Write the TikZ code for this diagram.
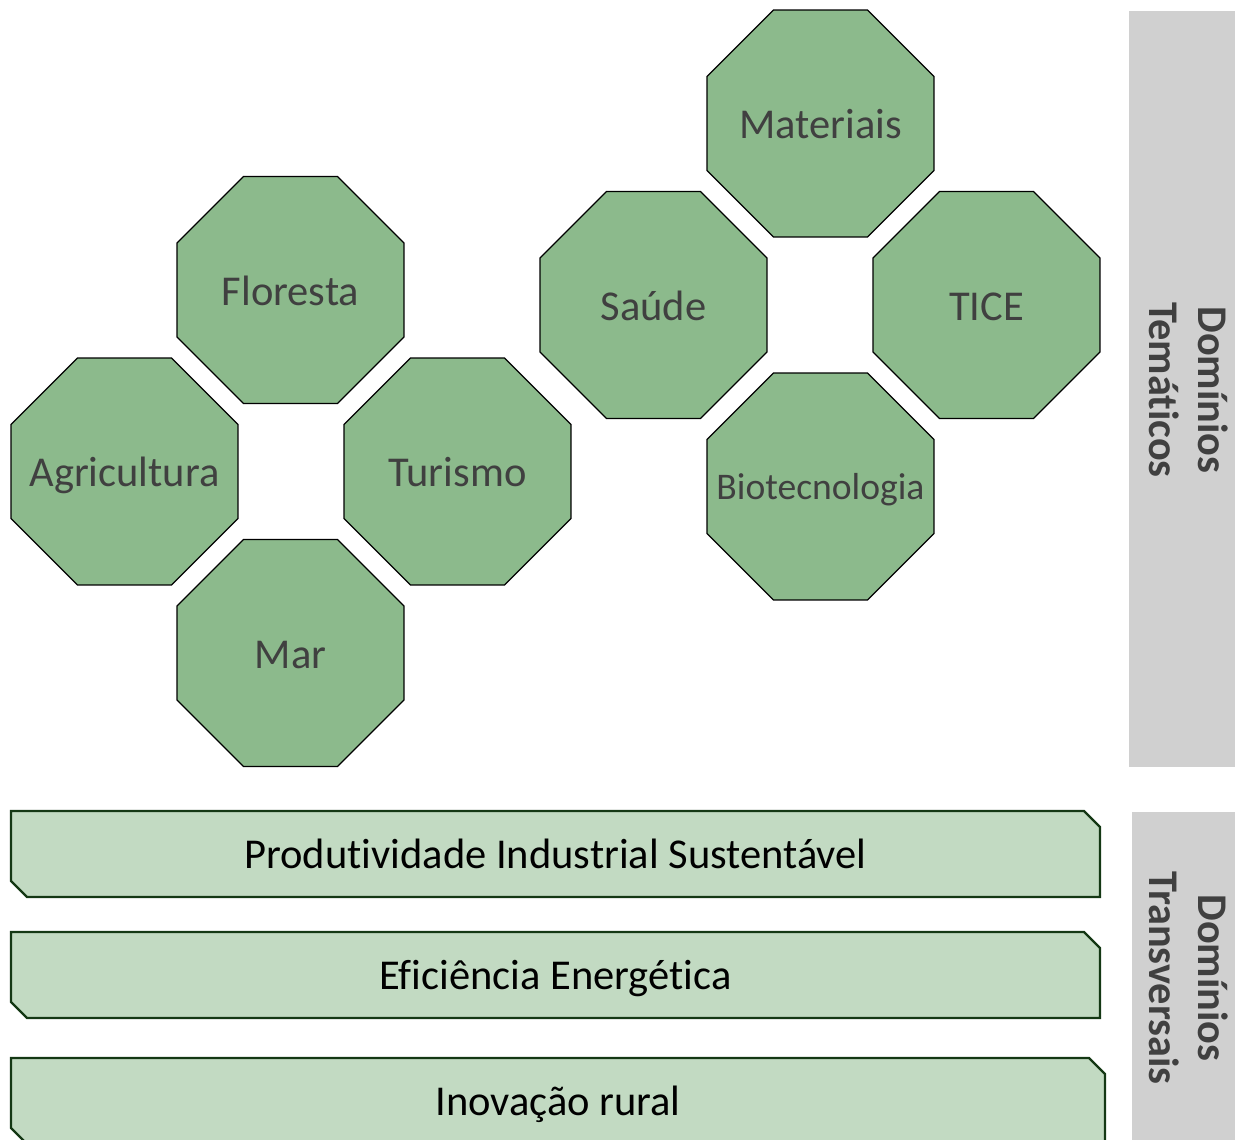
\documentclass[tikz,border=0pt]{standalone}
\usepackage{fontspec}
\setmainfont{Carlito}[Ligatures=NoCommon]
\usetikzlibrary{shapes.geometric,shapes.misc}
\definecolor{octfill}{RGB}{140,186,140}
\definecolor{barfill}{RGB}{194,218,194}
\definecolor{barline}{RGB}{20,56,20}
\definecolor{panel}{RGB}{208,208,208}
\definecolor{txt}{RGB}{64,64,64}
\newcommand{\zw}[1]{\makebox[0pt]{#1}}
\tikzset{
  oct/.style={regular polygon, regular polygon sides=8, minimum size=245.6pt,
    inner sep=0pt, fill=octfill, draw=black, line width=1.3pt, text=txt,
    text height=30pt, text depth=0pt,
    font=\fontsize{42.5}{51}\selectfont},
  bar/.style={chamfered rectangle, chamfered rectangle corners={north east,south west},
    chamfered rectangle xsep=8pt, chamfered rectangle ysep=8pt,
    fill=barfill, draw=barline, line width=2.2pt, inner sep=0pt,
    text height=29pt, text depth=0pt,
    minimum height=86pt, text=black, font=\fontsize{42.5}{51}\selectfont},
  sidepanel/.style={fill=panel, draw=none, inner sep=0pt},
  sidelabel/.style={rotate=-90, align=center, text=txt,
    font=\bfseries\fontsize{42.3}{49}\selectfont}
}
\begin{document}
\begin{tikzpicture}[x=1pt,y=-1pt]
\useasboundingbox (0,0) rectangle (1235,1140);
% side panels
\node[sidepanel, minimum width=106pt, minimum height=756pt] (p1) at (1182,389) {};
\node[sidelabel] (l1) at (1189,390) {Domínios\\Temáticos};
\node[sidepanel, minimum width=103pt, minimum height=330pt] (p2) at (1183.5,977) {};
\node[sidelabel] (l2) at (1189,978) {Domínios\\Transversais};
% octagons
\node[oct] (mat) at (820.5,123.5) {\zw{Materiais}};
\node[oct] (sau) at (653.5,305) {\zw{Saúde}};
\node[oct] (tice) at (986.5,305) {\zw{TICE}};
\node[oct, font=\fontsize{37.6}{45}\selectfont, text height=26.8pt] (bio) at (820.5,486.5) {\zw{Biotecnologia}};
\node[oct] (flo) at (290.5,290) {\zw{Floresta}};
\node[oct] (agr) at (124.5,471.5) {\zw{Agricultura}};
\node[oct] (tur) at (457.5,471.5) {\zw{Turismo}};
\node[oct] (mar) at (290.5,653) {\zw{Mar}};
% bars
\node[bar, minimum width=1089pt] (b1) at (555.5,854) {Produtividade Industrial Sustentável};
\node[bar, minimum width=1089pt] (b2) at (555.5,975) {Eficiência Energética};
\node[bar, minimum width=1094pt] (b3) at (558,1101) {Inovação rural};
\end{tikzpicture}
\end{document}
